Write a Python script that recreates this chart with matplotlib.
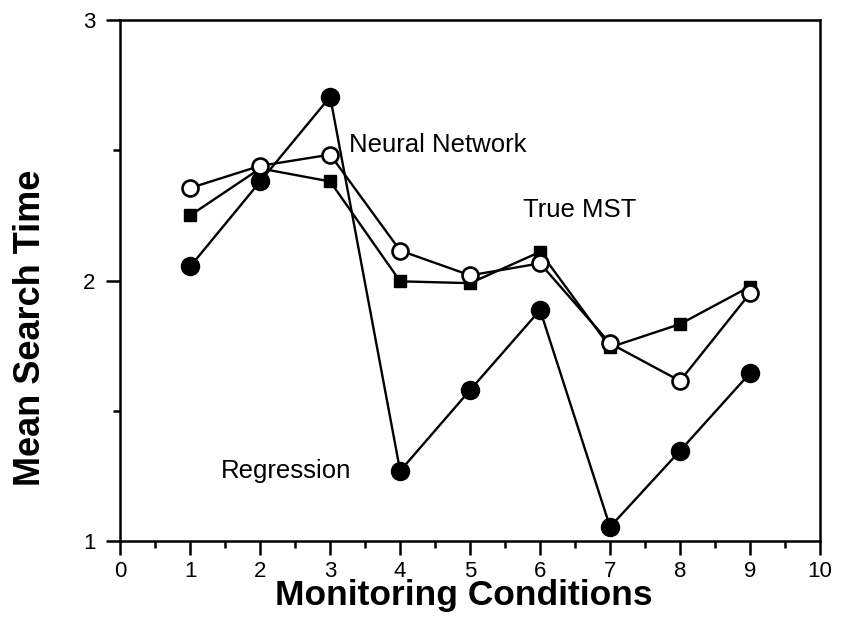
import matplotlib
matplotlib.use("Agg")
import matplotlib.pyplot as plt
from matplotlib.ticker import MultipleLocator

plt.rcParams["font.family"] = ["Liberation Sans", "DejaVu Sans"]

conditions = [1, 2, 3, 4, 5, 6, 7, 8, 9]
neural_network = [2.355, 2.44, 2.483, 2.115, 2.02, 2.066, 1.759, 1.615, 1.951]
true_mst = [2.25, 2.43, 2.38, 1.997, 1.99, 2.11, 1.744, 1.833, 1.977]
regression = [2.054, 2.38, 2.705, 1.27, 1.58, 1.887, 1.055, 1.347, 1.645]

fig = plt.figure(figsize=(8.41, 6.2), dpi=100)
ax = fig.add_axes([0.143, 0.127, 0.832, 0.841])

lw = 1.7
ax.plot(conditions, regression, color="black", lw=lw, marker="o",
        markersize=13, markerfacecolor="black", markeredgecolor="black", zorder=3)
ax.plot(conditions, true_mst, color="black", lw=lw, marker="s",
        markersize=9, markerfacecolor="black", markeredgecolor="black", zorder=4)
ax.plot(conditions, neural_network, color="black", lw=lw, marker="o",
        markersize=11.5, markerfacecolor="white", markeredgecolor="black",
        markeredgewidth=1.9, zorder=5)

# series labels
ax.text(3.27, 2.52, "Neural Network", fontsize=18.5, va="center", ha="left")
ax.text(5.76, 2.27, "True MST", fontsize=18.5, va="center", ha="left")
ax.text(1.44, 1.27, "Regression", fontsize=18.5, va="center", ha="left")

ax.set_xlim(0, 10)
ax.set_ylim(1, 3)
ax.xaxis.set_major_locator(MultipleLocator(1))
ax.xaxis.set_minor_locator(MultipleLocator(0.5))
ax.yaxis.set_major_locator(MultipleLocator(1))
ax.yaxis.set_minor_locator(MultipleLocator(0.5))
ax.tick_params(which="major", direction="out", length=10, width=1.8,
               labelsize=16, pad=4)
ax.tick_params(axis="y", which="major", pad=8)
ax.tick_params(which="minor", direction="out", length=5, width=1.8)
for s in ax.spines.values():
    s.set_linewidth(1.8)

fig.text(0.551, 0.024, "Monitoring Conditions", fontsize=25.5, fontweight="bold",
         ha="center", va="baseline")
fig.text(0.036, 0.471, "Mean Search Time", fontsize=26, fontweight="bold",
         ha="center", va="center", rotation=90)

fig.savefig("out.png", dpi=100)
